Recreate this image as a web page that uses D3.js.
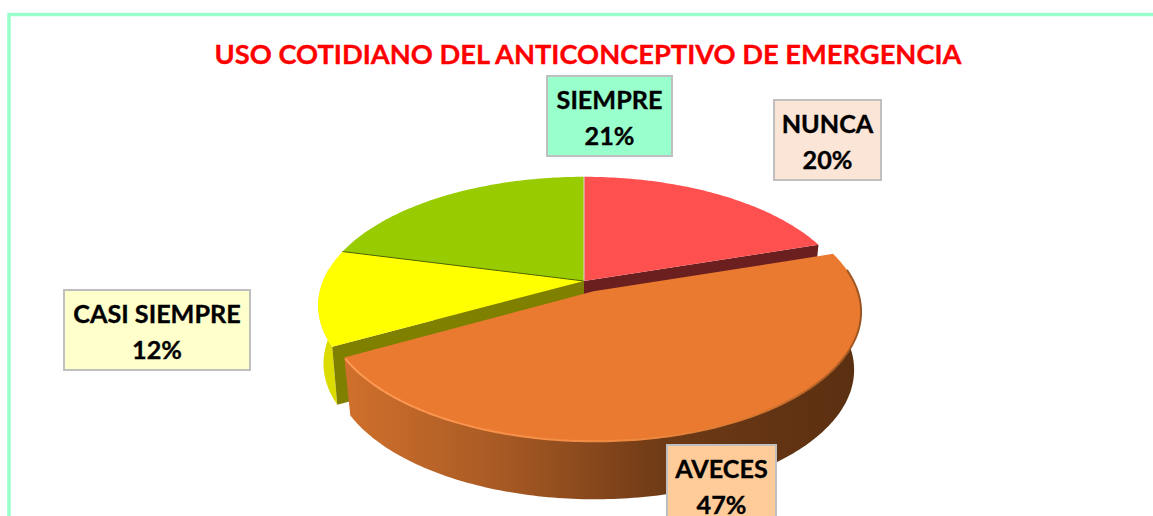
<!DOCTYPE html>
<html><head><meta charset="utf-8">
<script src="https://cdn.jsdelivr.net/npm/d3@7"></script>
<style>html,body{margin:0;padding:0;background:#fff;overflow:hidden}svg{display:block}text{font-family:Lato,"Open Sans",sans-serif;font-weight:700}</style>
</head><body><svg id="c" width="1153" height="516"></svg>
<script>
const title = "USO COTIDIANO DEL ANTICONCEPTIVO DE EMERGENCIA";
const categories = ["NUNCA","AVECES","CASI SIEMPRE","SIEMPRE"];
const values = [20,47,12,21];
const topColors = ["#ff5050","#ea7a2f","#ffff00","#99cc00"];
const faceColors = ["#6b1f1f","#7a4016","#7f7f00","#4d6600"];
const sideColors = ["#9c3030","#7a4016","#dcdc00","#5c7a00"];
const labelFills = ["#fbe5d6","#ffcc99","#ffffcc","#99ffcc"];
const explode = [0,0.09,0,0];

// layout (label boxes: left, top, width, height; per-slice perspective and wall taper)
const boxes = [[774,100,107,80],[667,445,109,80],[64,290,186,80],[547,76,125,80]];
const perspective = [0.19,0.15,0.19,0.19];
const wallScale = [0.975,0.975,0.98,0.975];
const cx=584, cy=281, R=261, S=124, depth=58;

const svg=d3.select("#c");
const defs=svg.append("defs");
const g=defs.append("linearGradient").attr("id","orangeSide").attr("x1",0).attr("x2",1).attr("y1",0).attr("y2",0);
[[0,"#d0702c"],[0.3,"#a85a24"],[0.62,"#6e3a16"],[1,"#5a2f11"]].forEach(s=>g.append("stop").attr("offset",s[0]).attr("stop-color",s[1]));
const gb=defs.append("linearGradient").attr("id","orangeRim").attr("x1",0).attr("x2",1).attr("y1",0).attr("y2",0);
[[0,"#ff9a55"],[0.55,"#f08a42"],[0.8,"#d8762f"],[1,"#9a5522"]].forEach(s=>gb.append("stop").attr("offset",s[0]).attr("stop-color",s[1]));

// frame
svg.append("rect").attr("x",9).attr("y",14.5).attr("width",1200).attr("height",600).attr("fill","#fff").attr("stroke","#99ffcc").attr("stroke-width",3.5);

svg.append("text").attr("x",588).attr("y",64).attr("text-anchor","middle").attr("font-size",27.3).attr("fill","#ff0000").attr("stroke","#ff0000").attr("stroke-width",0.35).text(title);

const arcs=d3.pie().sort(null).value(d=>d)(values);

function proj(i,a,r,e,mid,down){
  const x=r*Math.sin(a)+e*Math.sin(mid), y=r*Math.cos(a)+e*Math.cos(mid);
  const w=1+perspective[i]*y;
  const s=down?wallScale[i]:1;
  return [cx+R*s*x/w, cy-S*y/w+(down?depth:0)];
}
function sweep(i,a0,a1,e,mid,down){
  const n=Math.max(2,Math.ceil(Math.abs(a1-a0)*60));
  return d3.range(n+1).map(j=>proj(i,a0+(a1-a0)*j/n,1,e,mid,down));
}
const line=d3.line();
const layer=svg.append("g");

function drawSlice(i){
  const d=arcs[i], mid=(d.startAngle+d.endAngle)/2, e=explode[i];
  const apex=proj(i,0,0,e,mid,false), apexD=proj(i,0,0,e,mid,true);
  const s0=proj(i,d.startAngle,1,e,mid,false), s0d=proj(i,d.startAngle,1,e,mid,true);
  const s1=proj(i,d.endAngle,1,e,mid,false), s1d=proj(i,d.endAngle,1,e,mid,true);
  const lo=Math.max(d.startAngle,Math.PI/2-0.1), hi=Math.min(d.endAngle,Math.PI*1.5+0.1);
  if(hi>lo){
    const t=sweep(i,lo,hi,e,mid,false), b=sweep(i,lo,hi,e,mid,true).reverse();
    layer.append("path").attr("d",line(t.concat(b))+"Z").attr("fill",i===1?"url(#orangeSide)":sideColors[i]);
  }
  if(i!==1){
    layer.append("path").attr("d",line([apex,s0,s0d,apexD])+"Z").attr("fill",faceColors[i]);
    layer.append("path").attr("d",line([apex,s1,s1d,apexD])+"Z").attr("fill",faceColors[i]);
  }
  const top=[apex].concat(sweep(i,d.startAngle,d.endAngle,e,mid,false));
  layer.append("path").attr("d",line(top)+"Z").attr("fill",topColors[i]);
  if(i===1){
    layer.append("path").attr("d",line(sweep(i,d.startAngle+0.14,d.endAngle-0.01,e,mid,false))).attr("fill","none").attr("stroke","url(#orangeRim)").attr("stroke-width",2);
  }
}
[3,0,2,1].forEach(drawSlice);

// separators
const apex0=proj(3,0,0,0,0,false);
const sepA=proj(3,arcs[3].startAngle,1,0,0,false), sepB=proj(3,arcs[3].endAngle,1,0,0,false);
layer.append("path").attr("d",line([apex0,sepA])).attr("stroke","#4d6600").attr("stroke-width",1).attr("fill","none");
layer.append("path").attr("d",line([apex0,sepB])).attr("stroke","#d8d8d8").attr("stroke-width",1).attr("fill","none");

// labels
categories.forEach((c,i)=>{
  const b=boxes[i];
  svg.append("rect").attr("x",b[0]).attr("y",b[1]).attr("width",b[2]).attr("height",b[3]).attr("fill",labelFills[i]).attr("stroke","#bfbfbf").attr("stroke-width",2);
  [c,values[i]+"%"].forEach((t,j)=>{
    svg.append("text").attr("x",b[0]+b[2]/2).attr("y",b[1]+33+j*36).attr("text-anchor","middle").attr("font-size",25.2).attr("fill","#000").attr("stroke","#000").attr("stroke-width",0.35).text(t);
  });
});
</script></body></html>
